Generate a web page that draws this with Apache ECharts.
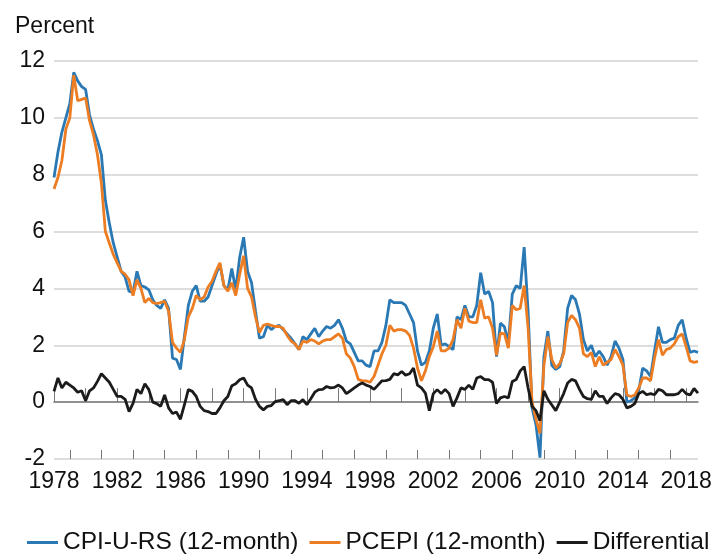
<!DOCTYPE html>
<html><head><meta charset="utf-8">
<script src="https://cdn.jsdelivr.net/npm/echarts@6/dist/echarts.min.js"></script>
<style>html,body{margin:0;padding:0;background:#fff}#c{width:716px;height:554px}</style>
</head><body><div id="c"></div>
<script>
// quarterly readings, first value at start of 1978 (chart scale)
const startYear = 1978;
const stepsPerYear = 4;

const cpi = [
  7.9, 8.8, 9.5, 10.0,
  10.5, 11.6, 11.3, 11.1,
  11.0, 10.1, 9.6, 9.2,
  8.7, 7.1, 6.3, 5.6,
  5.1, 4.6, 4.4, 3.9,
  3.85, 4.6, 4.1, 4.05,
  3.95, 3.6, 3.4, 3.3,
  3.6, 3.3, 1.55, 1.5,
  1.15, 2.3, 3.4, 3.9,
  4.1, 3.55, 3.55, 3.7,
  4.1, 4.5, 4.85, 4.1,
  3.95, 4.7, 3.95, 5.1,
  5.8, 4.6, 4.2, 3.2,
  2.25, 2.3, 2.7, 2.55,
  2.66, 2.7, 2.55, 2.4,
  2.25, 2.05, 1.85, 2.3,
  2.2, 2.4, 2.6, 2.3,
  2.5, 2.66, 2.6, 2.7,
  2.9, 2.6, 2.15, 2.05,
  1.75, 1.45, 1.45, 1.3,
  1.25, 1.8, 1.8, 2.1,
  2.7, 3.6, 3.5, 3.5,
  3.5, 3.4, 3.1, 2.8,
  1.8, 1.3, 1.4, 1.8,
  2.6, 3.1, 2.0, 2.05,
  1.95, 1.85, 3.0, 2.9,
  3.4, 3.0, 3.0, 3.4,
  4.55, 3.8, 3.9, 3.5,
  1.6, 2.78, 2.65, 2.1,
  3.8, 4.1, 4.0, 5.45,
  3.2, -0.2, -0.8, -1.95,
  1.6, 2.5, 1.3, 1.15,
  1.25, 1.8, 3.3, 3.75,
  3.6, 3.1, 2.2, 1.8,
  2.0, 1.6, 1.8, 1.6,
  1.3, 1.6, 2.15, 1.9,
  1.5, 0.0, 0.05, 0.15,
  0.4, 1.2, 1.1, 0.9,
  1.8, 2.65, 2.1, 2.1,
  2.2, 2.25, 2.7, 2.9,
  2.25, 1.75, 1.8, 1.75
];

const pce = [
  7.5, 7.9, 8.5, 9.6,
  10.0, 11.5, 10.6, 10.65,
  10.7, 9.9, 9.4, 8.7,
  7.7, 6.0, 5.6, 5.2,
  4.9, 4.6, 4.5, 4.3,
  3.75, 4.3, 4.0, 3.5,
  3.65, 3.5, 3.47, 3.5,
  3.55, 3.2, 2.1, 1.9,
  1.75, 2.2, 3.0, 3.3,
  3.75, 3.6, 3.7, 4.05,
  4.25, 4.6, 4.9, 4.1,
  3.9, 4.2, 3.75, 4.5,
  5.15, 4.0, 3.7, 3.0,
  2.45, 2.7, 2.75, 2.7,
  2.66, 2.66, 2.6, 2.35,
  2.15, 2.05, 1.85, 2.15,
  2.1, 2.2, 2.15, 2.05,
  2.15, 2.2, 2.2, 2.3,
  2.4, 2.25, 1.7, 1.55,
  1.25, 0.8, 0.75, 0.75,
  0.7, 0.9, 1.3, 1.7,
  2.0, 2.7, 2.5, 2.55,
  2.55, 2.5, 2.35, 1.9,
  1.2, 0.75, 1.1, 1.6,
  1.95, 2.5, 1.8, 1.8,
  1.9, 2.2, 2.9, 2.6,
  3.3, 2.85, 2.8, 2.8,
  3.6, 2.95, 3.0, 2.6,
  1.65, 2.43, 2.4, 1.9,
  3.4, 3.25, 3.3, 4.1,
  2.6, 0.0, -0.6, -1.1,
  1.3, 2.3, 1.5, 1.2,
  1.35, 1.7, 2.8, 3.05,
  2.9, 2.6, 1.7, 1.6,
  1.75, 1.25, 1.6, 1.3,
  1.4, 1.5, 1.85, 1.6,
  1.3, 0.25, 0.2, 0.25,
  0.5, 0.85, 0.85, 0.75,
  1.55, 2.2, 1.65, 1.85,
  1.9, 2.05, 2.3, 2.4,
  1.95, 1.45, 1.4, 1.43
];

const diff = [
  0.38, 0.85, 0.5, 0.7,
  0.6, 0.5, 0.35, 0.4,
  0.05, 0.4, 0.5, 0.73,
  1.0, 0.85, 0.7, 0.45,
  0.2, 0.2, 0.1, -0.33,
  -0.04, 0.45, 0.3, 0.65,
  0.44, 0.0, -0.05, -0.15,
  0.25, -0.2, -0.4, -0.35,
  -0.6, -0.1, 0.44, 0.38,
  0.2, -0.15, -0.3, -0.33,
  -0.4, -0.4, -0.2, 0.05,
  0.2, 0.58, 0.65, 0.79,
  0.85, 0.6, 0.5, 0.1,
  -0.15, -0.27, -0.15, -0.12,
  0.02, 0.05, 0.09, -0.09,
  0.05, 0.05, -0.04, 0.09,
  -0.09, 0.12, 0.35, 0.44,
  0.45, 0.55, 0.5, 0.52,
  0.6, 0.5, 0.3, 0.4,
  0.5, 0.6, 0.67, 0.6,
  0.55, 0.45, 0.6, 0.75,
  0.76, 0.8, 1.0, 0.96,
  1.08, 0.95, 1.0, 1.2,
  0.6, 0.5, 0.32, -0.3,
  0.3, 0.44, 0.3, 0.45,
  0.3, -0.15, 0.15, 0.5,
  0.45, 0.6, 0.45, 0.85,
  0.9, 0.79, 0.79, 0.7,
  -0.05, 0.15, 0.2, 0.15,
  0.73, 0.8, 1.1, 1.25,
  0.5, -0.15, -0.3, -0.65,
  0.4, 0.1, -0.1, -0.3,
  0.0, 0.3, 0.67, 0.8,
  0.75, 0.45, 0.2, 0.12,
  0.1, 0.4, 0.2, 0.2,
  -0.05, 0.15, 0.3, 0.26,
  0.1, -0.2, -0.15, -0.05,
  0.3, 0.38, 0.26, 0.3,
  0.26, 0.45, 0.4, 0.26,
  0.26, 0.26, 0.3, 0.45,
  0.3, 0.25, 0.48, 0.32
];

const majorTickYears = [1978,1980,1982,1984,1986,1988,1990,1992,1994,1996,1998,2000,2002,2004,2006,2008,2010,2012,2014,2016,2018];
const minorTickYears = [1979,1981,1983,1985,1987,1989,1991,1993,1995,1997,1999,2001,2003,2005,2007,2009,2011,2013,2015,2017];
const xLabelYears = [1978,1982,1986,1990,1994,1998,2002,2006,2010,2014,2018];
const yMin = -2, yMax = 12, yStep = 2;

const toPairs = arr => arr.map((v, i) => [startYear + i / stepsPerYear, v]);
const xMax = startYear + (cpi.length - 1) / stepsPerYear;

const FONT = 'Liberation Sans, Arial, sans-serif';
const chart = echarts.init(document.getElementById('c'), null, {renderer: 'canvas'});
chart.setOption({
  animation: false,
  backgroundColor: '#ffffff',
  graphic: [{
    type: 'text', left: 15, top: 15,
    style: {text: 'Percent', fontSize: 23, fontFamily: FONT, fill: '#111'}
  }],
  grid: {left: 54, right: 18, top: 61, bottom: 95},
  xAxis: [{
    type: 'value', min: startYear, max: xMax,
    axisLine: {show: true, lineStyle: {color: '#777', width: 1.5}},
    axisTick: {show: true, inside: true, length: 14, customValues: majorTickYears, lineStyle: {color: '#777', width: 1}},
    axisLabel: {customValues: xLabelYears, fontSize: 23, fontFamily: FONT, color: '#111', margin: 11, formatter: v => String(v)},
    splitLine: {show: false}
  }, {
    type: 'value', min: startYear, max: xMax, position: 'bottom',
    axisLine: {show: false},
    axisTick: {show: true, inside: true, length: 9, customValues: minorTickYears, lineStyle: {color: '#777', width: 1}},
    axisLabel: {show: false},
    splitLine: {show: false}
  }],
  yAxis: {
    type: 'value', min: yMin, max: yMax, interval: yStep,
    axisLine: {show: false}, axisTick: {show: false},
    axisLabel: {fontSize: 23, fontFamily: FONT, color: '#111', margin: 9},
    splitLine: {show: true, lineStyle: {color: '#d2d2d2', width: 1.5}}
  },
  legend: {
    left: 22, top: 525, icon: 'rect', itemWidth: 31, itemHeight: 3, itemGap: 11,
    textStyle: {fontSize: 24.5, fontFamily: FONT, color: '#111'},
    data: ['CPI-U-RS (12-month)', 'PCEPI (12-month)', 'Differential']
  },
  series: [
    {name: 'CPI-U-RS (12-month)', type: 'line', data: toPairs(cpi), symbol: 'none', lineStyle: {color: '#2a78b4', width: 2.8}, itemStyle: {color: '#2a78b4'}},
    {name: 'PCEPI (12-month)', type: 'line', data: toPairs(pce), symbol: 'none', lineStyle: {color: '#ec7d23', width: 2.8}, itemStyle: {color: '#ec7d23'}},
    {name: 'Differential', type: 'line', data: toPairs(diff), symbol: 'none', lineStyle: {color: '#1b1b1b', width: 2.8}, itemStyle: {color: '#1b1b1b'}}
  ]
});
</script>
</body></html>
